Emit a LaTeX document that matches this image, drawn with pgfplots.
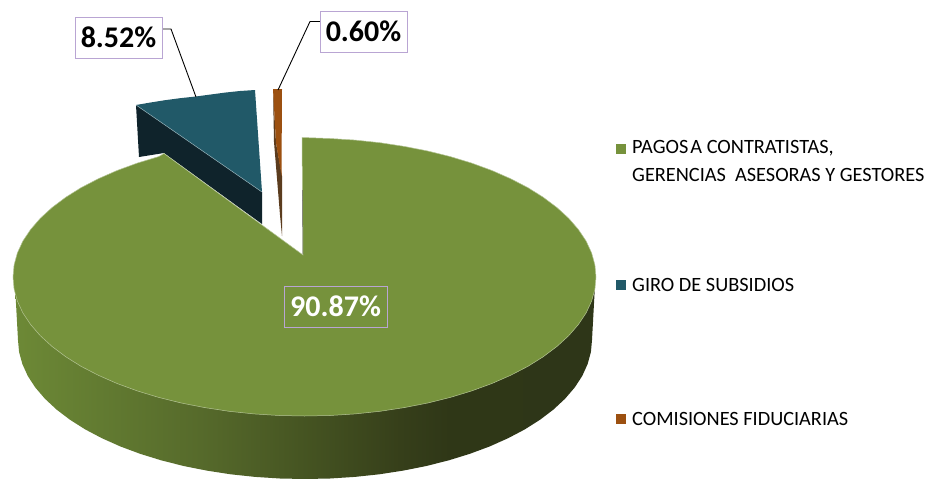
\documentclass[border=0pt]{standalone}
\usepackage{pgfplots}
\usepackage{fontspec}
\setmainfont{Carlito}
\pgfplotsset{compat=1.18}
\definecolor{gTop}{HTML}{76923C}
\definecolor{gEdge}{HTML}{B4C494}
\definecolor{teal1}{HTML}{215968}
\definecolor{teal2}{HTML}{0F232B}
\definecolor{org1}{HTML}{9C5010}
\definecolor{org2}{HTML}{5B3C1E}
\definecolor{boxc}{HTML}{B9A5D3}
\definecolor{s1}{HTML}{6D8936}
\definecolor{s2}{HTML}{627B31}
\definecolor{s3}{HTML}{566A2B}
\definecolor{s4}{HTML}{465522}
\definecolor{s5}{HTML}{363F1A}
\definecolor{s6}{HTML}{2F3717}
\definecolor{s7}{HTML}{2E3618}
\pgfdeclarehorizontalshading{sideG}{100bp}{
 color(0bp)=(s1);
 color(25bp)=(s1);
 color(32.3bp)=(s2);
 color(41bp)=(s3);
 color(49.6bp)=(s4);
 color(58.2bp)=(s5);
 color(62.5bp)=(s6);
 color(75bp)=(s7);
 color(100bp)=(s7)}
\begin{document}
\begin{tikzpicture}
\begin{axis}[
  scale only axis, width=926pt, height=479pt,
  xmin=0, xmax=926, ymin=0, ymax=479, y dir=reverse,
  axis lines=none, clip=true,
]
% canvas
\addplot[draw=none, fill=white] coordinates {(0,0)(926,0)(926,479)(0,479)} -- cycle;
% green side wall
\addplot[shading=sideG, draw=none] coordinates {
(15,285)(18,340)(19.1,352.1)(22.4,364.1)(27.8,376)(35.3,387.5)(44.9,398.7)(56.5,409.5)(69.9,419.7)(85.2,429.4)(102.1,438.3)(120.5,446.5)(140.4,453.9)(161.5,460.4)(183.7,466)(206.8,470.6)(230.7,474.3)(255.2,476.9)(280,478.5)(305,479)(330,478.5)(354.8,476.9)(379.3,474.3)(403.2,470.6)(426.3,466)(448.5,460.4)(469.6,453.9)(489.5,446.5)(507.9,438.3)(524.8,429.4)(540.1,419.7)(553.5,409.5)(565.1,398.7)(574.7,387.5)(582.2,376)(587.6,364.1)(590.9,352.1)(592,340)(595,285)} -- cycle;
% teal wall
\addplot[fill=teal2, draw=none] coordinates {(136,105)(262,192)(262,224)(164,153)(139,157)} -- cycle;
% teal top
\addplot[fill=teal1, draw=none] coordinates {(136,105)(150,102.6)(165,100.2)(180,98.2)(195,96.6)(210,94.6)(225,92.6)(240,91)(255,90)(262,192)} -- cycle;
\addplot[color=teal1!50!white, line width=0.5pt] coordinates {(136,105)(262,192)};
% orange wall and top
\addplot[fill=org2, draw=none] coordinates {(273,89)(274,142)(280,215)(282,236)(282,176)(276,143)} -- cycle;
\addplot[fill=org1, draw=none] coordinates {(273,89)(282,89)(281.5,176)(276,143)} -- cycle;
% green top
\addplot[fill=gTop, draw=gEdge, line width=0.5pt] coordinates {
(302,137.5)(329.9,138.5)(355.1,140.1)(379.9,142.7)(404.2,146.4)(427.7,151)(450.3,156.6)(471.7,163.1)(491.9,170.5)(510.6,178.7)(527.8,187.6)(543.3,197.3)(556.9,207.5)(568.7,218.3)(578.4,229.5)(586.1,241)(591.6,252.9)(594.9,264.9)(596,277)(594.9,289.1)(591.6,301.1)(586.1,313)(578.4,324.5)(568.7,335.7)(556.9,346.5)(543.3,356.7)(527.8,366.4)(510.6,375.3)(491.9,383.5)(471.7,390.9)(450.3,397.4)(427.7,403)(404.2,407.6)(379.9,411.3)(355.1,413.9)(329.9,415.5)(304.5,416)(279.1,415.5)(253.9,413.9)(229.1,411.3)(204.8,407.6)(181.3,403)(158.7,397.4)(137.3,390.9)(117.1,383.5)(98.4,375.3)(81.2,366.4)(65.7,356.7)(52.1,346.5)(40.3,335.7)(30.6,324.5)(22.9,313)(17.4,301.1)(14.1,289.1)(13,277)(14.1,264.9)(17.4,252.9)(22.9,241)(30.6,229.5)(40.3,218.3)(52.1,207.5)(65.7,197.3)(81.2,187.6)(98.4,178.7)(117.1,170.5)(137.3,163.1)(158.7,156.6)(164,153.5)(303,255)} -- cycle;
\addplot[color=gray!80!black, line width=0.5pt] coordinates {(302.4,190)(303,254)};
% leaders
\addplot[color=black, line width=0.9pt] coordinates {(162,29)(171,29)(196,97)};
\addplot[color=black, line width=0.9pt] coordinates {(320,21.5)(310,21.5)(278,90)};
% legend squares
\addplot[only marks, mark=square*, mark size=4.6pt, color=gTop] coordinates {(621,148.5)};
\addplot[only marks, mark=square*, mark size=4.6pt, color=teal1] coordinates {(621,284.5)};
\addplot[only marks, mark=square*, mark size=4.6pt, color=org1] coordinates {(621,418.5)};
% labels
\node[draw=boxc, line width=0.9pt, fill=white, minimum width=87pt, minimum height=41pt, inner sep=0pt, font=\fontsize{30}{36}\selectfont\bfseries] at (axis cs:118.5,37.5) {8.52\%};
\node[draw=boxc, line width=0.9pt, fill=white, minimum width=87pt, minimum height=41pt, inner sep=0pt, font=\fontsize{30}{36}\selectfont\bfseries] at (axis cs:363.5,31.5) {0.60\%};
\node[draw=boxc, line width=0.9pt, minimum width=103pt, minimum height=41pt, inner sep=0pt, text=white, font=\fontsize{30}{36}\selectfont\bfseries] at (axis cs:335.5,306.5) {90.87\%};
\node[anchor=west, inner sep=0pt, font=\fontsize{20.3}{24}\selectfont] at (axis cs:632,148.5) {PAGOS\kern-2.5pt\ A CONTRATISTAS,};
\node[anchor=west, inner sep=0pt, font=\fontsize{20.3}{24}\selectfont] at (axis cs:632,174.5) {GERENCIAS\ \ ASESORAS Y GESTORES};
\node[anchor=west, inner sep=0pt, font=\fontsize{20.3}{24}\selectfont] at (axis cs:632,284.5) {GIRO DE SUBSIDIOS};
\node[anchor=west, inner sep=0pt, font=\fontsize{20.3}{24}\selectfont] at (axis cs:632,418.5) {COMISIONES FIDUCIARIAS};
\end{axis}
\end{tikzpicture}
\end{document}
